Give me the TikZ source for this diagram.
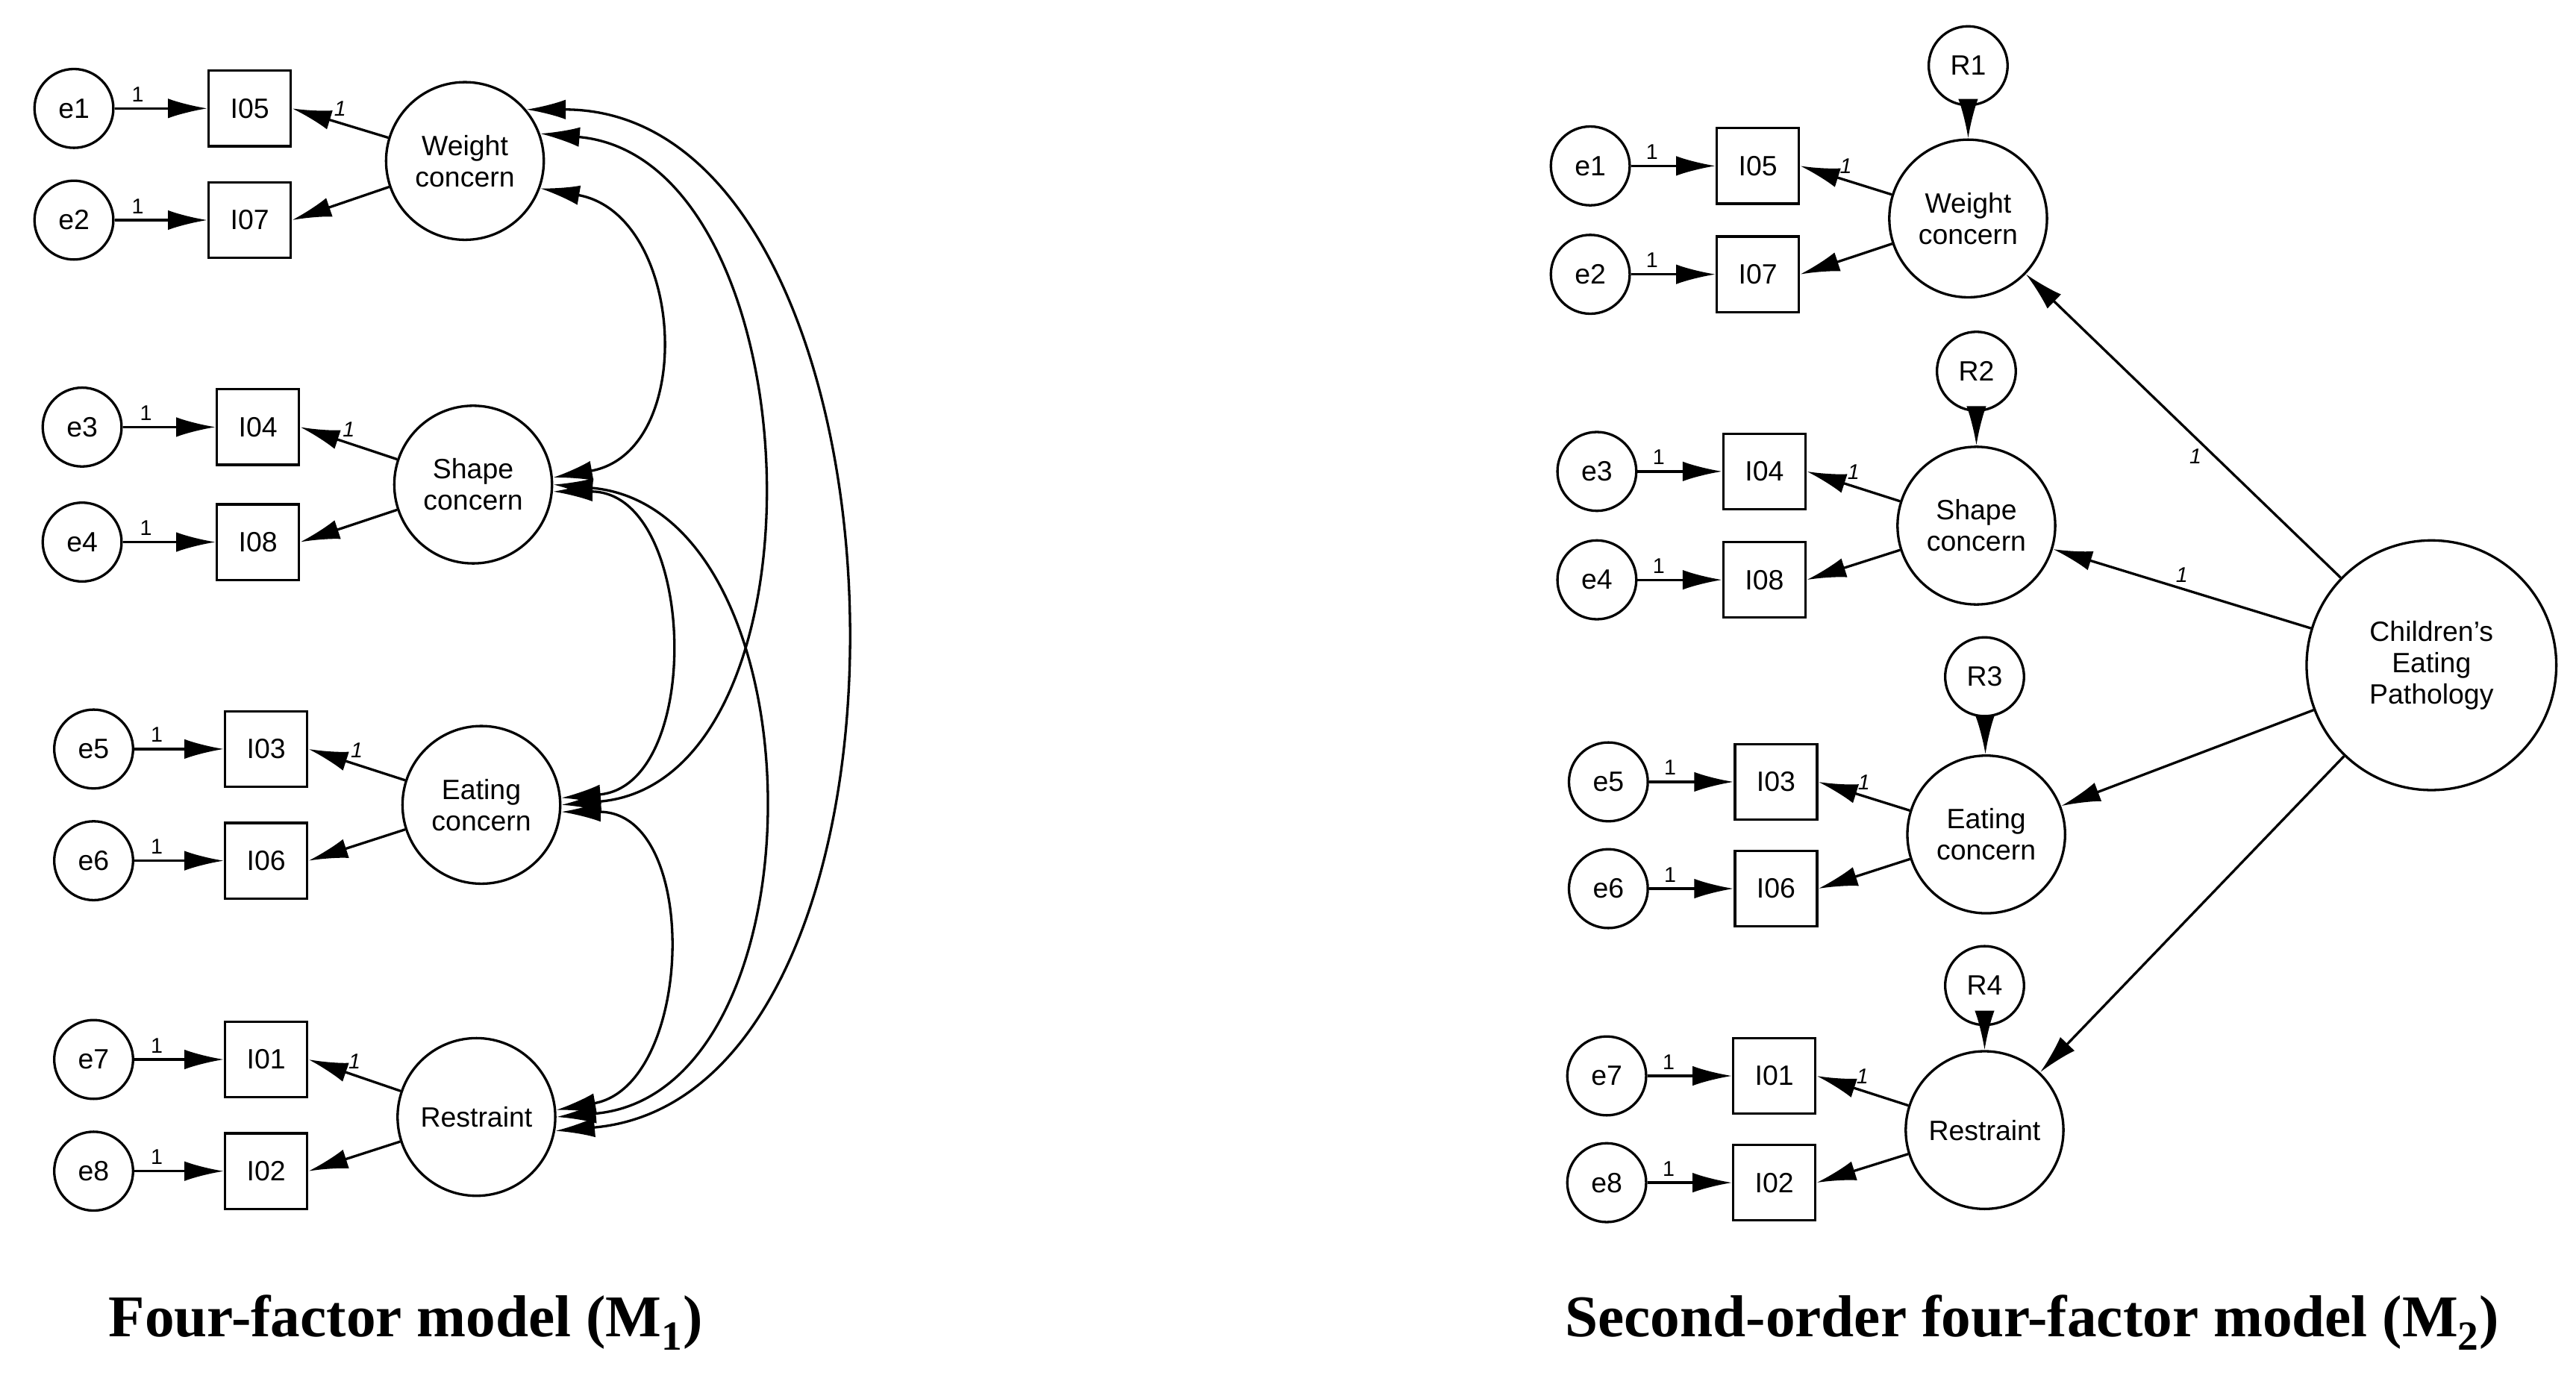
\documentclass[tikz,border=0pt]{standalone}
\usepackage{fontspec}
\setmainfont{Liberation Sans}
\newfontfamily\capfont{Liberation Serif}
\usetikzlibrary{arrows.meta}
\begin{document}
\begin{tikzpicture}[x=1pt,y=-1pt,
 font=\fontsize{17}{19}\selectfont,
 err/.style={draw,circle,minimum size=48pt,inner sep=0pt,line width=1.5pt},
 box/.style={draw,rectangle,minimum width=50pt,minimum height=46pt,inner sep=0pt,line width=1.5pt},
 fac/.style={draw,circle,minimum size=96pt,inner sep=0pt,align=center,line width=1.5pt},
 arr/.style={line width=1.5pt,-{Latex[length=24pt,width=12pt]}},
 cov/.style={line width=1.5pt,{Latex[length=24pt,width=12pt]}-{Latex[length=24pt,width=12pt]}},
 one/.style={font=\fontsize{13}{13}\selectfont},
 ione/.style={font=\fontsize{13}{13}\selectfont\itshape},
 captxt/.style={font=\capfont\bfseries\fontsize{36}{38}\selectfont}]
\useasboundingbox (0,0) rectangle (1568,844);
% ---------- left model
\foreach \i/\e/\b/\x/\y/\bx in {1/e1/I05/45/66/152,2/e2/I07/45/134/152,3/e3/I04/50/260/157,4/e4/I08/50/330/157,5/e5/I03/57/456/162,6/e6/I06/57/524/162,7/e7/I01/57/645/162,8/e8/I02/57/713/162}{
 \node[err] (Le\i) at (\x,\y) {\e};
 \node[box] (Lb\i) at (\bx,\y) {\b};
 \draw[arr] (Le\i) -- node[one,pos=0.25,above]{1} (Lb\i);
}
\node[fac] (LW) at (283,98) {Weight\\concern};
\node[fac] (LS) at (288,295) {Shape\\concern};
\node[fac] (LE) at (293,490) {Eating\\concern};
\node[fac] (LR) at (290,680) {Restraint};
\foreach \f/\a/\b in {LW/1/2,LS/3/4,LE/5/6,LR/7/8}{
 \draw[arr] (\f) -- node[ione,pos=0.5,above]{1} (Lb\a.east);
 \draw[arr] (\f) -- (Lb\b.east);
}
\draw[cov] (LW.-20) to[out=-10,in=10,looseness=1.3] (LS.5);
\draw[cov] (LS.-5) to[out=0,in=5,looseness=1.2] (LE.5);
\draw[cov] (LE.-5) to[out=0,in=10,looseness=1.2] (LR.5);
\draw[cov] (LW.20) to[out=-5,in=5,looseness=1.05] (LE.0);
\draw[cov] (LS.0) to[out=-5,in=5,looseness=1.1] (LR.0);
\draw[cov] (LW.40) to[out=0,in=5,looseness=1.0] (LR.-10);
\node[captxt] (c1) at (247,805) {Four-factor model (M\textsubscript{1})};
% ---------- right model
\foreach \i/\e/\b/\x/\y/\bx in {1/e1/I05/968/101/1070,2/e2/I07/968/167/1070,3/e3/I04/972/287/1074,4/e4/I08/972/353/1074,5/e5/I03/979/476/1081,6/e6/I06/979/541/1081,7/e7/I01/978/655/1080,8/e8/I02/978/720/1080}{
 \node[err] (Re\i) at (\x,\y) {\e};
 \node[box] (Rb\i) at (\bx,\y) {\b};
 \draw[arr] (Re\i) -- node[one,pos=0.25,above]{1} (Rb\i);
}
\node[fac] (RW) at (1198,133) {Weight\\concern};
\node[fac] (RS) at (1203,320) {Shape\\concern};
\node[fac] (RE) at (1209,508) {Eating\\concern};
\node[fac] (RR) at (1208,688) {Restraint};
\foreach \f/\a/\b in {RW/1/2,RS/3/4,RE/5/6,RR/7/8}{
 \draw[arr] (\f) -- node[ione,pos=0.5,above]{1} (Rb\a.east);
 \draw[arr] (\f) -- (Rb\b.east);
}
\node[err] (R1) at (1198,40) {R1};
\node[err] (R2) at (1203,226) {R2};
\node[err] (R3) at (1208,412) {R3};
\node[err] (R4) at (1208,600) {R4};
\draw[arr] (R1) -- (RW); \draw[arr] (R2) -- (RS);
\draw[arr] (R3) -- (RE); \draw[arr] (R4) -- (RR);
\node[fac,minimum size=152pt] (CEP) at (1480,405) {Children's\\Eating\\Pathology};
\draw[arr] (CEP) -- node[ione,pos=0.4,left,xshift=-4pt]{1} (RW);
\draw[arr] (CEP) -- node[ione,pos=0.5,above]{1} (RS);
\draw[arr] (CEP) -- (RE);
\draw[arr] (CEP) -- (RR);
\node[captxt] (c2) at (1237,805) {Second-order four-factor model (M\textsubscript{2})};
\end{tikzpicture}
\end{document}
